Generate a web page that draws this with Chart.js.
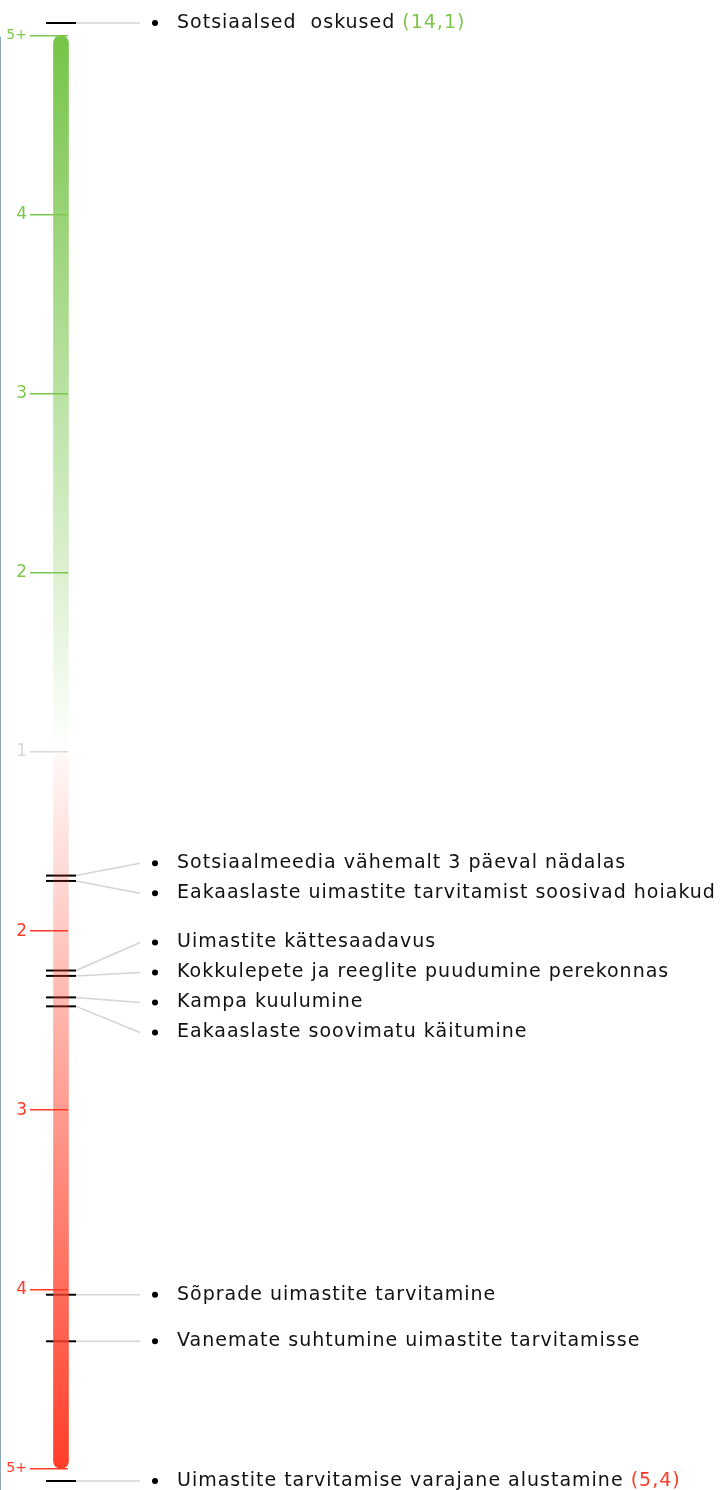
<!DOCTYPE html>
<html>
<head>
<meta charset="utf-8">
<script src="https://cdn.jsdelivr.net/npm/chart.js@4.4.0/dist/chart.umd.min.js"></script>
<style>
  html, body { margin: 0; padding: 0; background: #fff; }
  #contenedor { position: relative; width: 725px; height: 1490px; }
  #contenedor:before {
    content: ""; position: absolute; left: 0; top: 37px; bottom: 0;
    width: 1px; background: #8fa7bb;
  }
</style>
</head>
<body>
<div id="contenedor"><canvas id="grafico" width="725" height="1490"></canvas></div>
<script>
// datos (cociente de chances)
const etiquetas = [
  "Sotsiaalsed  oskused",
  "Sotsiaalmeedia vähemalt 3 päeval nädalas",
  "Eakaaslaste uimastite tarvitamist soosivad hoiakud",
  "Uimastite kättesaadavus",
  "Kokkulepete ja reeglite puudumine perekonnas",
  "Kampa kuulumine",
  "Eakaaslaste soovimatu käitumine",
  "Sõprade uimastite tarvitamine",
  "Vanemate suhtumine uimastite tarvitamisse",
  "Uimastite tarvitamise varajane alustamine",
];
const valores = [14.1, 1.69, 1.72, 2.22, 2.25, 2.37, 2.42, 4.03, 4.29, 5.4];
const tipos = ["kaitse", "risk", "risk", "risk", "risk", "risk", "risk", "risk", "risk", "risk"];
const mostrarValor = [true, false, false, false, false, false, false, false, false, true];

const ticksKaitse = [5, 4, 3, 2, 1];
const ticksRiesgo = [2, 3, 4, 5];
const etiquetasTicks = ["5+", "4", "3", "2", "1", "2", "3", "4", "5+"];
const topeEscala = 5;

const VERDE = "#7cc84c";
const ROJO = "#ff3b28";
const GRIS = "#d8d8d8";
const FUENTE = "'DejaVu Sans', sans-serif";
const LIMITE = 4.07;

// kaitse hacia arriba (negativo), risk hacia abajo (positivo)
function aEje(valor, tipo) {
  return tipo === "kaitse" ? -(valor - 1) : valor - 1;
}
function recortar(v) {
  return Math.max(-LIMITE, Math.min(LIMITE, v));
}

const posicionesTicks = ticksKaitse
  .map((v) => aEje(v, "kaitse"))
  .concat(ticksRiesgo.map((v) => aEje(v, "risk")));

function colorTick(v) {
  if (v < 0) return VERDE;
  if (v > 0) return ROJO;
  return GRIS;
}

function gradienteBarra(context, tipo) {
  const chart = context.chart;
  if (!chart.chartArea) return tipo === "kaitse" ? VERDE : ROJO;
  const y = chart.scales.y;
  const y0 = y.getPixelForValue(0);
  const y1 = y.getPixelForValue(aEje(topeEscala, tipo));
  const g = chart.ctx.createLinearGradient(0, y0, 0, y1);
  if (tipo === "kaitse") {
    g.addColorStop(0, "rgba(118, 196, 72, 0)");
    g.addColorStop(1, "rgba(118, 196, 72, 1)");
  } else {
    g.addColorStop(0, "rgba(255, 62, 40, 0.03)");
    g.addColorStop(1, "rgba(255, 62, 40, 1)");
  }
  return g;
}

// separa las etiquetas para que no se pisen
function separarEtiquetas(ys, gap) {
  const orden = ys.map((y, i) => i).sort((a, b) => ys[a] - ys[b]);
  const grupos = orden.map((i) => ({ idx: [i], centro: ys[i] }));
  let cambio = true;
  while (cambio) {
    cambio = false;
    for (let k = 0; k < grupos.length - 1; k++) {
      const a = grupos[k];
      const b = grupos[k + 1];
      const finA = a.centro + ((a.idx.length - 1) * gap) / 2;
      const iniB = b.centro - ((b.idx.length - 1) * gap) / 2;
      if (iniB - finA < gap) {
        const idx = a.idx.concat(b.idx);
        const centro = idx.reduce((s, i) => s + ys[i], 0) / idx.length;
        grupos.splice(k, 2, { idx: idx, centro: centro });
        cambio = true;
        break;
      }
    }
  }
  const res = [];
  grupos.forEach((g) =>
    g.idx.forEach((i, j) => {
      res[i] = g.centro + (j - (g.idx.length - 1) / 2) * gap;
    })
  );
  return res;
}

const pluginEtiquetas = {
  id: "etiquetas",
  afterDatasetsDraw(chart) {
    const ctx = chart.ctx;
    const puntos = chart.getDatasetMeta(2).data;
    const posiciones = separarEtiquetas(puntos.map((p) => p.y), 30);
    ctx.save();
    puntos.forEach((p, i) => {
      const yEt = posiciones[i];
      ctx.strokeStyle = "#d4d4d4";
      ctx.lineWidth = 1.5;
      ctx.beginPath();
      ctx.moveTo(p.x + 15, p.y);
      ctx.lineTo(140, yEt);
      ctx.stroke();

      ctx.fillStyle = "#000";
      ctx.beginPath();
      ctx.arc(155, yEt, 3, 0, Math.PI * 2);
      ctx.fill();

      ctx.font = "19px " + FUENTE;
      ctx.letterSpacing = "1px";
      ctx.textBaseline = "middle";
      ctx.textAlign = "left";
      ctx.fillStyle = "#111";
      ctx.fillText(etiquetas[i], 177, yEt);
      if (mostrarValor[i]) {
        const ancho = ctx.measureText(etiquetas[i] + " ").width;
        ctx.fillStyle = tipos[i] === "kaitse" ? VERDE : ROJO;
        ctx.fillText("(" + String(valores[i]).replace(".", ",") + ")", 177 + ancho, yEt);
      }
    });
    ctx.restore();
  },
};

const ctx = document.getElementById("grafico").getContext("2d");
new Chart(ctx, {
  type: "bar",
  data: {
    datasets: [
      {
        label: "kaitse",
        data: [{ x: 0, y: [0, aEje(topeEscala, "kaitse")] }],
        backgroundColor: (c) => gradienteBarra(c, "kaitse"),
        borderRadius: 8,
        borderSkipped: false,
        barThickness: 15,
        grouped: false,
        clip: false,
      },
      {
        label: "risk",
        data: [{ x: 0, y: [0, aEje(topeEscala, "risk")] }],
        backgroundColor: (c) => gradienteBarra(c, "risk"),
        borderRadius: 8,
        borderSkipped: false,
        barThickness: 15,
        grouped: false,
        clip: false,
      },
      {
        type: "scatter",
        label: "tegurid",
        data: valores.map((v, i) => ({ x: 0, y: recortar(aEje(v, tipos[i])) })),
        pointStyle: "line",
        radius: 15,
        hoverRadius: 15,
        borderColor: "#000",
        borderWidth: 2,
        clip: false,
      },
    ],
  },
  options: {
    responsive: false,
    animation: false,
    layout: {
      autoPadding: false,
      padding: { top: 23, bottom: 9, left: 0, right: 657 },
    },
    plugins: {
      legend: { display: false },
      tooltip: { enabled: false },
    },
    scales: {
      x: { type: "linear", display: false, offset: false, min: -31, max: 7 },
      y: {
        reverse: true,
        min: -LIMITE,
        max: LIMITE,
        afterBuildTicks: (eje) => {
          eje.ticks = posicionesTicks.map((v) => ({ value: v }));
        },
        afterFit: (eje) => {
          eje.width = 30;
          eje.paddingTop = 0;
          eje.paddingBottom = 0;
        },
        border: { display: false },
        grid: {
          z: 1,
          drawTicks: false,
          lineWidth: 1.5,
          color: (c) => colorTick(c.tick ? c.tick.value : 0),
        },
        ticks: {
          autoSkip: false,
          padding: 3,
          callback: (valor, indice) => etiquetasTicks[indice],
          color: (c) => colorTick(c.tick ? c.tick.value : 0),
          font: (c) => ({
            family: FUENTE,
            size: c.tick && Math.abs(c.tick.value) === topeEscala - 1 ? 14 : 17,
          }),
        },
      },
    },
  },
  plugins: [pluginEtiquetas],
});
</script>
</body>
</html>
